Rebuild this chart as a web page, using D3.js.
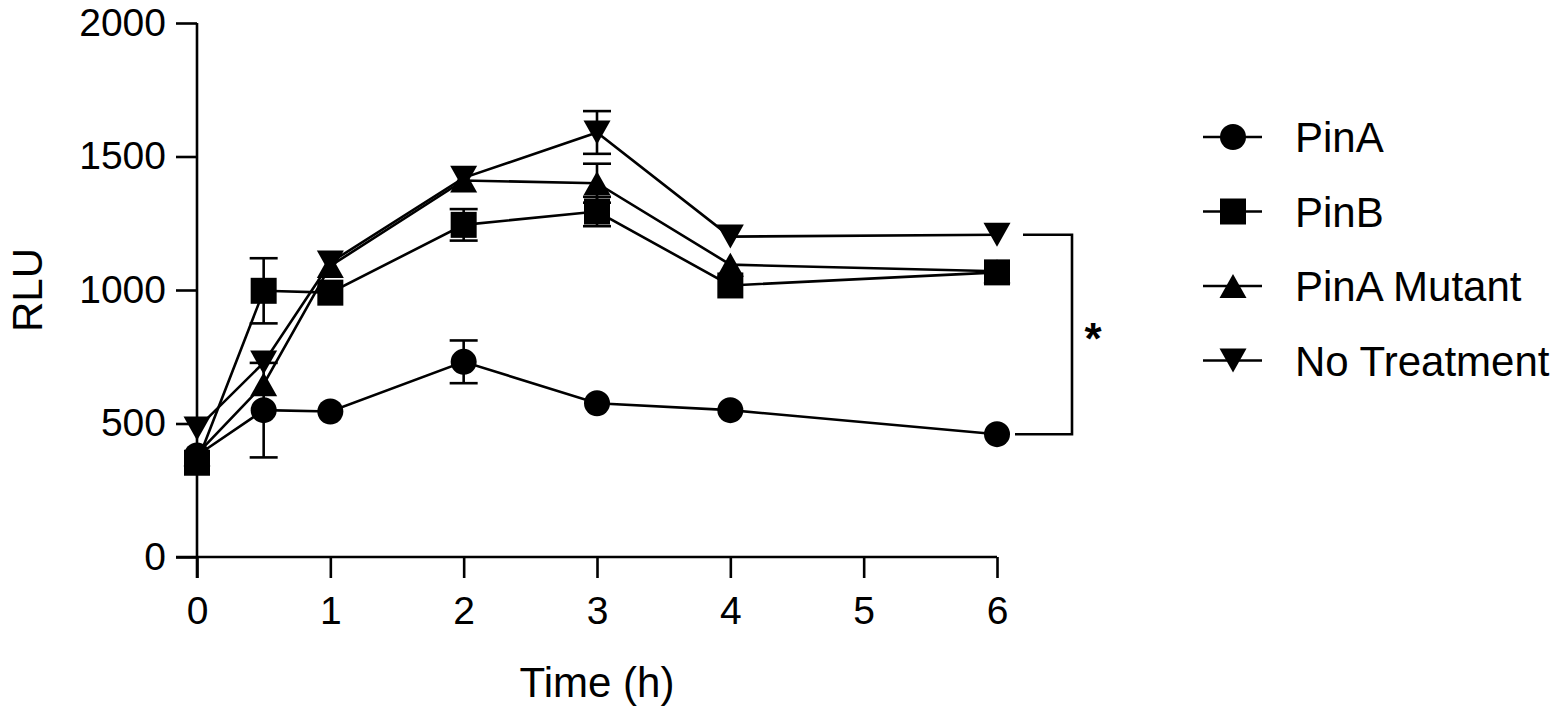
<!DOCTYPE html>
<html>
<head>
<meta charset="utf-8">
<script src="https://cdn.jsdelivr.net/npm/d3@7"></script>
<style>
  body { margin: 0; background: #fff; }
  svg { display: block; }
  text { font-family: "Liberation Sans", Arial, sans-serif; fill: #000; }
</style>
</head>
<body>
<svg id="chart" width="1564" height="717"></svg>
<script>
// data (RLU, mean and error)
const times = [0, 0.5, 1, 2, 3, 4, 6];
const seriesNames = ["PinA", "PinB", "PinA Mutant", "No Treatment"];
const pinA = [380, 550, 545, 731, 576, 550, 460];
const pinAErr = [0, 177, 0, 80, 0, 0, 0];
const pinB = [353, 997, 990, 1244, 1294, 1017, 1066];
const pinBErr = [0, 122, 0, 59, 55, 0, 0];
const mutant = [385, 647, 1090, 1410, 1400, 1095, 1070];
const mutantErr = [0, 0, 0, 0, 73, 0, 0];
const noTreat = [481, 728, 1103, 1420, 1590, 1200, 1207];
const noTreatErr = [0, 0, 0, 0, 80, 0, 0];
const xTicks = [0, 1, 2, 3, 4, 5, 6];
const yTicks = [0, 500, 1000, 1500, 2000];

const shapes = ["circle", "square", "up", "down"];
const errs = [pinAErr, pinBErr, mutantErr, noTreatErr];
const series = [pinA, pinB, mutant, noTreat].map((vals, i) => ({
    name: seriesNames[i],
    shape: shapes[i],
    points: times.map((t, j) => ({ t: t, v: vals[j], e: errs[i][j] }))
}));

const sw = 2.6;
const svg = d3.select("#chart");

const x = d3.scaleLinear().domain([0, 6]).range([197, 997]);
const y = d3.scaleLinear().domain([0, 2000]).range([557, 23]);

// axes
const xAxis = svg.append("g")
    .attr("transform", `translate(0,${y(0)})`)
    .call(d3.axisBottom(x).tickValues(xTicks).tickFormat(d3.format("d"))
        .tickSize(21).tickSizeOuter(0).tickPadding(18));
const yAxis = svg.append("g")
    .attr("transform", `translate(${x(0)},0)`)
    .call(d3.axisLeft(y).tickValues(yTicks).tickFormat(d3.format("d"))
        .tickSize(21).tickSizeOuter(0).tickPadding(10));

[xAxis, yAxis].forEach(a => {
    a.select(".domain").attr("stroke", "#000").attr("stroke-width", sw);
    a.selectAll(".tick line").attr("stroke", "#000").attr("stroke-width", sw);
    a.selectAll(".tick text")
        .attr("font-size", 39)
        .attr("font-family", "Liberation Sans, Arial, sans-serif")
        .attr("fill", "#000");
});
// the x domain line starts at the y tick end, y domain runs through the 0 tick
xAxis.select(".domain").attr("d", `M${x(0) - 21},0H${x(6)}`);
yAxis.select(".domain").attr("d", `M0,${y(2000)}V${y(0) + 21}`);

svg.append("text")
    .attr("x", (x(0) + x(6)) / 2)
    .attr("y", 697)
    .attr("text-anchor", "middle")
    .attr("font-size", 42)
    .text("Time (h)");

svg.append("text")
    .attr("transform", `translate(42,${(y(0) + y(2000)) / 2}) rotate(-90)`)
    .attr("text-anchor", "middle")
    .attr("font-size", 42)
    .text("RLU");

// marker path centred at 0,0
function marker(shape) {
    if (shape === "circle") {
        const r = 13;
        return `M${-r},0A${r},${r} 0 1,0 ${r},0A${r},${r} 0 1,0 ${-r},0Z`;
    }
    if (shape === "square") {
        const h = 13;
        return `M${-h},${-h}H${h}V${h}H${-h}Z`;
    }
    const w = 13.5, hh = 12;
    if (shape === "up") return `M0,${-hh}L${w},${hh}L${-w},${hh}Z`;
    return `M0,${hh}L${w},${-hh}L${-w},${-hh}Z`;
}

const plot = svg.append("g");
const line = d3.line().x(d => x(d.t)).y(d => y(d.v));

// error bars
series.forEach(s => {
    const eb = plot.append("g").attr("stroke", "#000").attr("stroke-width", sw);
    s.points.filter(p => p.e > 0).forEach(p => {
        const cx = x(p.t), top = y(p.v + p.e), bot = y(p.v - p.e);
        eb.append("line").attr("x1", cx).attr("x2", cx).attr("y1", top).attr("y2", bot);
        eb.append("line").attr("x1", cx - 14).attr("x2", cx + 14).attr("y1", top).attr("y2", top);
        eb.append("line").attr("x1", cx - 14).attr("x2", cx + 14).attr("y1", bot).attr("y2", bot);
    });
});

// lines
series.forEach(s => {
    plot.append("path")
        .datum(s.points)
        .attr("d", line)
        .attr("fill", "none")
        .attr("stroke", "#000")
        .attr("stroke-width", sw);
});

// markers
series.forEach(s => {
    plot.append("g").selectAll("path")
        .data(s.points)
        .join("path")
        .attr("transform", d => `translate(${x(d.t)},${y(d.v)})`)
        .attr("d", marker(s.shape))
        .attr("fill", "#000");
});

// significance bracket between No Treatment and PinA at 6 h
const bx = x(6) + 75;
const bTop = y(noTreat[6]), bBot = y(pinA[6]);
svg.append("path")
    .attr("d", `M${x(6) + 26},${bTop}H${bx}V${bBot}H${x(6) + 18}`)
    .attr("fill", "none")
    .attr("stroke", "#000")
    .attr("stroke-width", sw);
svg.append("text")
    .attr("x", bx + 21)
    .attr("y", (bTop + bBot) / 2 + 20)
    .attr("text-anchor", "middle")
    .attr("font-size", 44)
    .attr("font-weight", "bold")
    .text("*");

// legend
const legend = svg.append("g");
const rowY = [137, 211.5, 286, 360.5];
series.forEach((s, i) => {
    const g = legend.append("g").attr("transform", `translate(1233,${rowY[i]})`);
    g.append("line").attr("x1", -30).attr("x2", 29).attr("y1", 0).attr("y2", 0)
        .attr("stroke", "#000").attr("stroke-width", sw);
    g.append("path").attr("d", marker(s.shape)).attr("fill", "#000");
    g.append("text")
        .attr("x", 62)
        .attr("y", 15)
        .attr("font-size", 42)
        .text(s.name);
});
</script>
</body>
</html>
